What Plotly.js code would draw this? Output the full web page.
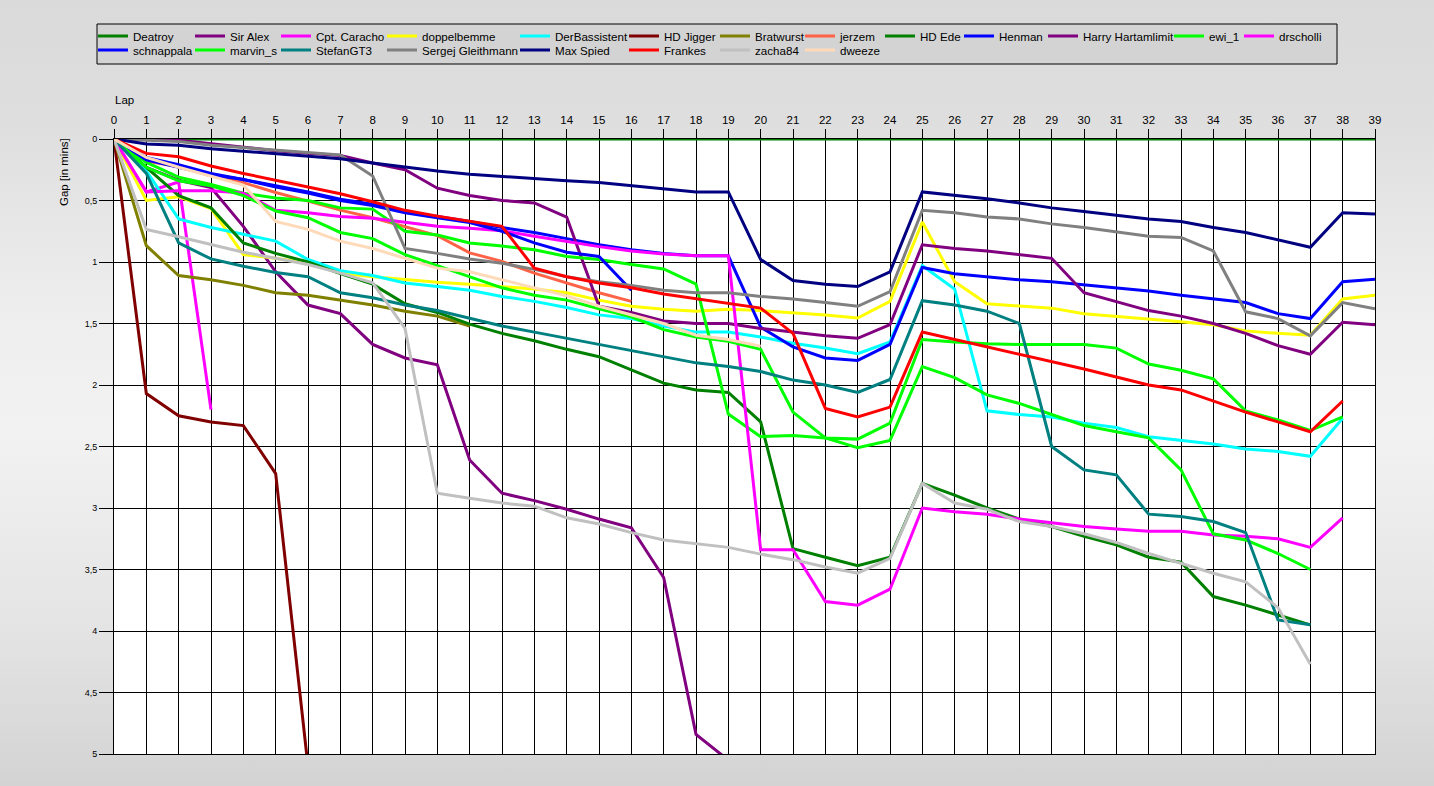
<!DOCTYPE html>
<html><head><meta charset="utf-8">
<script src="https://cdn.plot.ly/plotly-3.0.1.min.js"></script>
<style>
html,body{margin:0;padding:0;}
body{width:1434px;height:786px;overflow:hidden;
background:linear-gradient(to bottom,#dadada 0%,#dedede 15%,#eeeeee 40%,#f2f2f2 55%,#e4e4e4 80%,#d3d3d3 100%);}
#chart{width:1434px;height:786px;}
</style></head><body><div id="chart"></div>
<script>
const laps = [0,1,2,3,4,5,6,7,8,9,10,11,12,13,14,15,16,17,18,19,20,21,22,23,24,25,26,27,28,29,30,31,32,33,34,35,36,37,38,39];
const yTickVals = [0,0.5,1,1.5,2,2.5,3,3.5,4,4.5,5];
const yTickText = ["0","0,5","1","1,5","2","2,5","3","3,5","4","4,5","5"];

const names = ["Deatroy","Sir Alex","Cpt. Caracho","doppelbemme","DerBassistent","HD Jigger","Bratwurst","jerzem","HD Ede","Henman","Harry Hartamlimit","ewi_1","drscholli","schnappala","marvin_s","StefanGT3","Sergej Gleithmann","Max Spied","Frankes","zacha84","dweeze"];
const colors = ["#008000","#800080","#FF00FF","#FFFF00","#00FFFF","#800000","#808000","#FF6347","#008000","#0000FF","#800080","#00FF00","#FF00FF","#0000FF","#00FF00","#008080","#808080","#000080","#FF0000","#C0C0C0","#FFDAB9"];

const Deatroy = [0,0,0,0,0,0,0,0,0,0,0,0,0,0,0,0,0,0,0,0,0,0,0,0,0,0,0,0,0,0,0,0,0,0,0,0,0,0,0,0];
const SirAlex = [0,0.23,0.335,0.395,0.71,1.08,1.35,1.42,1.67,1.78,1.835,2.61,2.88,2.94,3.01,3.09,3.16,3.565,4.84,5.05];
const CptCaracho = [0,0.43,0.35,2.2];
const doppelbemme = [0,0.50,0.47,0.565,0.94,0.97,1.01,1.09,1.12,1.145,1.165,1.18,1.20,1.22,1.25,1.31,1.36,1.385,1.40,1.385,1.395,1.41,1.43,1.455,1.32,0.675,1.16,1.34,1.36,1.375,1.42,1.44,1.46,1.485,1.51,1.56,1.58,1.595,1.30,1.27];
const DerBassistent = [0,0.26,0.65,0.72,0.775,0.83,0.98,1.07,1.11,1.17,1.20,1.23,1.28,1.32,1.37,1.43,1.46,1.52,1.57,1.57,1.61,1.66,1.70,1.745,1.65,1.03,1.22,2.21,2.24,2.26,2.31,2.345,2.42,2.45,2.48,2.52,2.54,2.58,2.27];
const HDJigger = [0,2.07,2.25,2.30,2.33,2.72,5.1];
const Bratwurst = [0,0.867,1.11,1.145,1.19,1.25,1.27,1.31,1.35,1.40,1.44,1.52];
const jerzem = [0,0.18,0.226,0.30,0.355,0.435,0.505,0.578,0.64,0.71,0.785,0.926,0.995,1.09,1.17,1.25,1.32];
const HDEde = [0,0.23,0.46,0.56,0.845,0.93,1.0,1.095,1.18,1.34,1.41,1.505,1.58,1.64,1.71,1.77,1.88,1.985,2.04,2.06,2.30,3.33,3.40,3.47,3.40,2.80,2.895,3.0,3.09,3.15,3.23,3.30,3.40,3.44,3.72,3.79,3.87,3.95];
const Henman = [0,0.15,0.21,0.28,0.33,0.38,0.43,0.49,0.53,0.59,0.63,0.67,0.72,0.76,0.81,0.86,0.90,0.93,0.95,0.95,1.53,1.69,1.78,1.80,1.67,1.045,1.095,1.12,1.145,1.16,1.185,1.21,1.235,1.27,1.30,1.33,1.42,1.46,1.16,1.14];
const HarryHartamlimit = [0,0.0,0.01,0.04,0.07,0.095,0.115,0.135,0.195,0.25,0.40,0.46,0.50,0.52,0.635,1.36,1.41,1.48,1.50,1.50,1.54,1.57,1.60,1.62,1.51,0.86,0.89,0.91,0.94,0.97,1.25,1.32,1.395,1.44,1.50,1.58,1.68,1.75,1.49,1.51];
const ewi_1 = [0,0.19,0.31,0.37,0.44,0.48,0.50,0.56,0.57,0.75,0.78,0.845,0.87,0.90,0.955,0.98,1.02,1.057,1.18,2.236,2.42,2.41,2.43,2.44,2.31,1.63,1.65,1.665,1.67,1.67,1.67,1.70,1.83,1.88,1.95,2.21,2.285,2.37,2.26];
const drscholli = [0,0.43,0.42,0.42,0.44,0.58,0.60,0.63,0.645,0.68,0.71,0.726,0.745,0.79,0.835,0.875,0.91,0.935,0.95,0.95,3.34,3.34,3.76,3.79,3.66,3.0,3.03,3.05,3.09,3.12,3.15,3.17,3.19,3.19,3.22,3.23,3.25,3.32,3.08];
const schnappala = [0,0.17,0.23,0.29,0.33,0.39,0.44,0.50,0.54,0.60,0.64,0.68,0.75,0.845,0.92,0.955,1.23];
const marvin_s = [0,0.23,0.34,0.38,0.46,0.585,0.64,0.76,0.81,0.94,1.03,1.12,1.21,1.27,1.31,1.38,1.445,1.55,1.61,1.645,1.71,2.22,2.43,2.51,2.45,1.85,1.94,2.08,2.15,2.24,2.33,2.38,2.43,2.69,3.21,3.26,3.37,3.5];
const StefanGT3 = [0,0.28,0.845,0.975,1.035,1.085,1.12,1.25,1.29,1.35,1.395,1.46,1.52,1.57,1.62,1.67,1.72,1.77,1.82,1.85,1.89,1.96,2.0,2.06,1.955,1.315,1.35,1.40,1.50,2.50,2.69,2.73,3.05,3.07,3.11,3.20,3.91,3.95];
const SergejGleithmann = [0,0.01,0.02,0.05,0.07,0.09,0.11,0.13,0.30,0.89,0.93,0.975,1.01,1.06,1.12,1.16,1.19,1.23,1.25,1.25,1.28,1.30,1.33,1.36,1.24,0.58,0.60,0.635,0.65,0.69,0.72,0.755,0.79,0.80,0.91,1.405,1.46,1.60,1.33,1.38];
const MaxSpied = [0,0.04,0.05,0.08,0.10,0.12,0.145,0.16,0.195,0.23,0.26,0.286,0.305,0.32,0.34,0.354,0.38,0.41,0.43,0.43,0.98,1.15,1.18,1.20,1.08,0.43,0.455,0.485,0.52,0.56,0.59,0.62,0.65,0.67,0.72,0.76,0.82,0.88,0.60,0.61];
const Frankes = [0,0.117,0.144,0.22,0.28,0.335,0.39,0.445,0.51,0.58,0.627,0.667,0.71,1.05,1.12,1.17,1.21,1.26,1.30,1.335,1.375,1.58,2.19,2.26,2.18,1.57,1.63,1.69,1.745,1.81,1.87,1.935,2.0,2.04,2.13,2.22,2.30,2.38,2.13];
const zacha84 = [0,0.735,0.795,0.86,0.92,0.97,1.02,1.09,1.17,1.54,2.88,2.92,2.96,2.985,3.08,3.13,3.20,3.26,3.29,3.32,3.375,3.42,3.48,3.53,3.41,2.80,2.96,3.01,3.11,3.15,3.21,3.28,3.37,3.45,3.53,3.60,3.81,4.27];
const dweeze = [0,0.15,0.23,0.30,0.375,0.67,0.735,0.83,0.89,0.97,1.05,1.08,1.145,1.21,1.275,1.36,1.43,1.50,1.595,1.63,1.685];

const series = [Deatroy,SirAlex,CptCaracho,doppelbemme,DerBassistent,HDJigger,Bratwurst,jerzem,HDEde,Henman,HarryHartamlimit,ewi_1,drscholli,schnappala,marvin_s,StefanGT3,SergejGleithmann,MaxSpied,Frankes,zacha84,dweeze];

// legend entry placement (layout only): text start x and row centre y in pixels
const legendTextX = [133,230,316,422,555,664,755,840,920,999,1083,1209,1279,133,230,316,422,555,664,755,840];
const legendRowY  = [36,36,36,36,36,36,36,36,36,36,36,36,36,50,50,50,50,50,50,50,50];

const W = 1434, H = 786;
const FONT = "Liberation Sans, Arial, sans-serif";

const traces = series.map((vals, i) => ({
  type: 'scatter', mode: 'lines',
  x: laps.slice(0, vals.length), y: vals,
  name: names[i],
  line: {color: colors[i], width: 3},
  legend: i === 0 ? 'legend' : 'legend' + (i + 1),
  hoverinfo: 'skip'
}));

const layout = {
  width: W, height: H,
  paper_bgcolor: 'rgba(0,0,0,0)',
  plot_bgcolor: '#ffffff',
  margin: {l: 114, r: 59, t: 139, b: 32, pad: 0, autoexpand: false},
  font: {family: FONT, color: '#000'},
  showlegend: true,
  xaxis: {
    side: 'top', range: [0, 39], tickvals: laps, ticktext: laps.map(String),
    showgrid: true, gridcolor: '#000', gridwidth: 1,
    showline: true, linecolor: '#000', linewidth: 1, mirror: true,
    ticks: 'outside', ticklen: 9, tickcolor: '#000', tickwidth: 1,
    tickfont: {family: FONT, size: 11.5, color: '#000'},
    zeroline: false, automargin: false, fixedrange: true
  },
  yaxis: {
    range: [5, 0], tickvals: yTickVals, ticktext: yTickText,
    showgrid: true, gridcolor: '#000', gridwidth: 1,
    showline: true, linecolor: '#000', linewidth: 1, mirror: true,
    ticks: 'outside', ticklen: 14, tickcolor: '#000', tickwidth: 1,
    tickfont: {family: FONT, size: 9, color: '#000'},
    zeroline: false, automargin: false, fixedrange: true
  },
  shapes: [{
    type: 'rect', xref: 'paper', yref: 'paper', layer: 'below',
    x0: (97 - 114) / 1261, x1: (1337 - 114) / 1261,
    y0: 1 + (139 - 64) / 615, y1: 1 + (139 - 24) / 615,
    fillcolor: '#d3d3d3', line: {color: '#000', width: 1}
  }],
  annotations: [
    {text: 'Lap', xref: 'paper', yref: 'paper', x: (124 - 114) / 1261, y: 1 + (139 - 100) / 615,
     showarrow: false, xanchor: 'center', yanchor: 'middle', font: {family: FONT, size: 11.5, color: '#000'}},
    {text: 'Gap [in mins]', xref: 'paper', yref: 'paper', x: (64 - 114) / 1261, y: 1 - (172 - 139) / 615,
     showarrow: false, textangle: -90, xanchor: 'center', yanchor: 'middle', font: {family: FONT, size: 11.5, color: '#000'}}
  ]
};

names.forEach((n, i) => {
  const id = i === 0 ? 'legend' : 'legend' + (i + 1);
  layout[id] = {
    xref: 'container', yref: 'container',
    x: (legendTextX[i] - 40) / W, xanchor: 'left',
    y: 1 - legendRowY[i] / H, yanchor: 'middle',
    orientation: 'v', bgcolor: 'rgba(0,0,0,0)', borderwidth: 0,
    font: {family: FONT, size: 11.6, color: '#000'},
    itemclick: false, itemdoubleclick: false
  };
});

Plotly.newPlot('chart', traces, layout, {displayModeBar: false, staticPlot: true});
</script></body></html>
